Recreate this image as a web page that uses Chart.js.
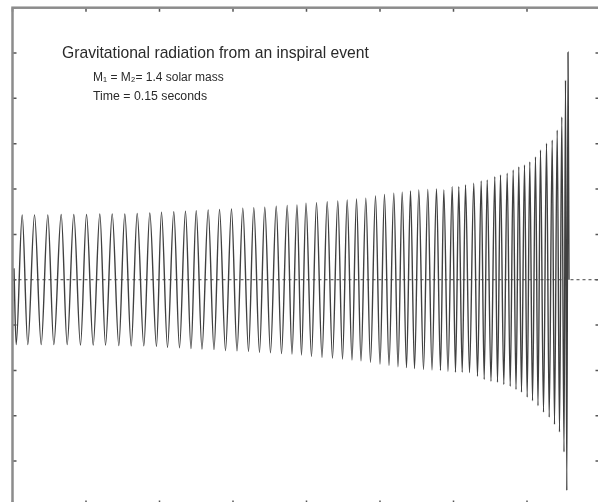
<!DOCTYPE html>
<html><head><meta charset="utf-8">
<script src="https://cdn.jsdelivr.net/npm/chart.js@4"></script>
<style>html,body{margin:0;padding:0;overflow:hidden;background:#fff}canvas{display:block}</style>
</head><body>
<canvas id="c" width="612" height="520"></canvas>
<script>
// Axis tick values (no labels are printed in the reference)
const xTicks = [0, 20, 40, 60, 80, 100, 120, 140, 160];   // time, ms
const yTicks = [-5, -4, -3, -2, -1, 0, 1, 2, 3, 4, 5, 6];  // strain, arbitrary units

// Successive extrema (crests and troughs) of the chirp waveform
const timeMs = [
  0.4, 1.0, 2.64, 4.16, 5.99, 7.81, 9.61, 11.24, 13.25, 14.88,
  16.68, 18.50, 20.14, 21.96, 23.76, 25.31, 27.13, 28.93, 30.56, 32.30,
  33.93, 35.73, 37.36, 39.18, 40.54, 42.18, 43.89, 45.44, 47.07, 48.57,
  49.99, 51.56, 53.25, 54.83, 56.33, 57.96, 59.59, 61.09, 62.67, 64.22,
  65.66, 67.21, 68.65, 70.20, 71.76, 73.20, 74.75, 76.05, 77.41, 78.64,
  79.86, 81.36, 82.72, 84.22, 85.63, 87.07, 88.52, 89.80, 91.07, 92.38,
  93.61, 94.83, 96.14, 97.41, 98.78, 100.0, 101.22, 102.45, 103.76, 104.90,
  106.04, 107.21, 108.30, 109.39, 110.56, 111.84, 113.01, 114.15, 115.37, 116.46,
  117.36, 118.50, 119.65, 120.54, 121.44, 122.37, 123.27, 124.35, 125.52, 126.53,
  127.54, 128.35, 129.17, 130.20, 131.24, 131.97, 132.79, 133.69, 134.61, 135.43,
  136.24, 137.01, 137.77, 138.50, 139.32, 140.05, 140.76, 141.50, 142.31, 142.99,
  143.67, 144.49, 145.31, 146.04, 146.86, 147.48, 148.22, 148.84, 149.47, 150.07,
  150.48, 150.83, 151.16, 151.43
];
const strain = [
  0.25, -1.43, 1.43, -1.43, 1.43, -1.43, 1.43, -1.43, 1.44, -1.43,
  1.44, -1.44, 1.44, -1.44, 1.45, -1.44, 1.45, -1.45, 1.45, -1.46,
  1.46, -1.46, 1.47, -1.47, 1.49, -1.49, 1.50, -1.50, 1.51, -1.52,
  1.52, -1.53, 1.54, -1.54, 1.55, -1.56, 1.56, -1.57, 1.58, -1.58,
  1.59, -1.60, 1.60, -1.61, 1.62, -1.63, 1.64, -1.64, 1.65, -1.66,
  1.69, -1.69, 1.70, -1.71, 1.72, -1.73, 1.74, -1.75, 1.76, -1.77,
  1.78, -1.79, 1.80, -1.82, 1.85, -1.86, 1.88, -1.89, 1.91, -1.92,
  1.93, -1.94, 1.96, -1.96, 1.98, -1.98, 1.99, -1.99, 2.00, -2.00,
  1.98, -2.02, 2.05, -2.04, 2.05, -2.04, 2.09, -2.05, 2.13, -2.13,
  2.18, -2.20, 2.20, -2.24, 2.27, -2.26, 2.31, -2.31, 2.35, -2.35,
  2.42, -2.42, 2.49, -2.48, 2.53, -2.59, 2.60, -2.67, 2.71, -2.78,
  2.86, -2.92, 3.01, -3.03, 3.08, -3.19, 3.30, -3.36, 3.59, -3.80,
  4.40, -4.65, 5.02, 0
];
const baseline = [0, 0];
const baselineTimes = [0, 160];

const titleText = "Gravitational radiation from an inspiral event";
const massText = "M\u2081 = M\u2082= 1.4 solar mass";
const durationText = "Time = 0.15 seconds";

if (timeMs.length !== strain.length) throw new Error("length mismatch " + timeMs.length + " vs " + strain.length);

const framePlugin = {
  id: 'frame',
  afterDraw(chart) {
    const ctx = chart.ctx;
    const { left, top, right, bottom } = chart.chartArea;
    const xs = chart.scales.x, ys = chart.scales.y;
    ctx.save();
    ctx.strokeStyle = '#555';
    ctx.lineWidth = 1.5;
    ctx.beginPath();
    xTicks.forEach(v => {
      const p = xs.getPixelForValue(v);
      ctx.moveTo(p, top); ctx.lineTo(p, top + 4);
      ctx.moveTo(p, bottom); ctx.lineTo(p, bottom - 6);
    });
    yTicks.forEach(v => {
      const p = ys.getPixelForValue(v);
      ctx.moveTo(left, p); ctx.lineTo(left + 4, p);
      ctx.moveTo(right, p); ctx.lineTo(right - 5, p);
    });
    ctx.stroke();
    ctx.strokeStyle = '#8c8c8c';
    ctx.lineWidth = 2.5;
    ctx.strokeRect(left, top, right - left, bottom - top);

    ctx.fillStyle = '#2a2a2a';
    ctx.textBaseline = 'alphabetic';
    ctx.font = '15.7px "Liberation Sans", Arial, sans-serif';
    ctx.fillText(titleText, left + 49.5, top + 50.5);
    ctx.font = '12px "Liberation Sans", Arial, sans-serif';
    ctx.fillText(massText, left + 80.5, top + 73);
    ctx.font = '12.3px "Liberation Sans", Arial, sans-serif';
    ctx.fillText(durationText, left + 80.5, top + 92);
    ctx.restore();
  }
};

new Chart(document.getElementById('c'), {
  type: 'line',
  data: {
    datasets: [
      {
        data: timeMs.map((t, i) => ({ x: t, y: strain[i] })),
        borderColor: '#404040',
        borderWidth: 1.4,
        pointRadius: 0,
        cubicInterpolationMode: 'monotone',
        fill: false
      },
      {
        data: baselineTimes.map((t, i) => ({ x: t, y: baseline[i] })),
        borderColor: '#444',
        borderWidth: 1,
        borderDash: [3, 3],
        pointRadius: 0,
        fill: false
      }
    ]
  },
  options: {
    responsive: false,
    animation: false,
    devicePixelRatio: 1,
    layout: { padding: { left: 12.5, top: 7.7, right: 11.5, bottom: 13.6 } },
    plugins: { legend: { display: false }, tooltip: { enabled: false }, title: { display: false } },
    scales: {
      x: { type: 'linear', display: false, min: 0, max: 160 },
      y: { type: 'linear', display: false, min: -5, max: 6 }
    }
  },
  plugins: [framePlugin]
});
</script>
</body></html>
